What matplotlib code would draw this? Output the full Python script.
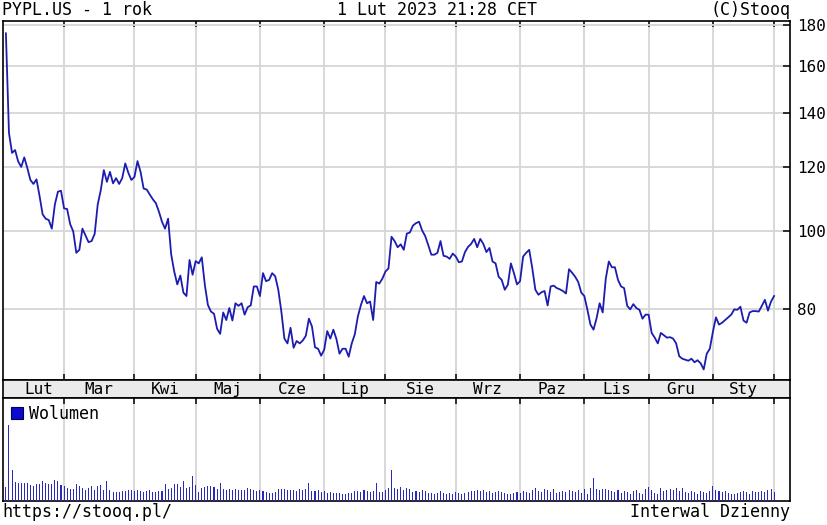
import numpy as np
import pandas as pd
import matplotlib
matplotlib.use("Agg")
import matplotlib.pyplot as plt
from matplotlib.patches import Patch
from matplotlib.ticker import NullLocator, FixedLocator, FixedFormatter

# ---------------- data ----------------
start_date = "2022-02-01"
end_date = "2023-02-01"
holidays = ["2022-02-21", "2022-04-15", "2022-05-30", "2022-06-20", "2022-07-04",
            "2022-09-05", "2022-11-24", "2022-12-26", "2023-01-02", "2023-01-16"]

month_names = ["Lut", "Mar", "Kwi", "Maj", "Cze", "Lip", "Sie", "Wrz", "Paz", "Lis", "Gru", "Sty"]

price_ticks = [80, 100, 120, 140, 160, 180]

close = [
    175.7, 132.2, 124.9, 125.9, 121.9, 120.0, 123.3, 119.6, 115.6, 114.3,
    115.8, 110.4, 104.8, 103.5, 103.1, 100.6, 107.8, 111.8, 112.1, 106.6,
    106.4, 101.9, 99.8, 93.9, 94.7, 100.6, 98.7, 96.8, 97.1, 99.1,
    107.8, 112.3, 118.9, 115.0, 118.3, 114.5, 116.2, 114.3, 116.2, 121.2,
    118.0, 115.6, 116.6, 122.0, 118.3, 112.8, 112.5, 110.9, 109.4, 108.2,
    105.6, 102.6, 100.6, 103.5, 93.5, 89.0, 85.8, 88.0, 83.8, 83.0,
    92.0, 88.2, 91.7, 91.1, 92.7, 85.7, 80.9, 79.4, 78.9, 75.6,
    74.5, 79.2, 77.5, 80.2, 77.4, 81.3, 80.7, 81.3, 78.7, 80.4,
    80.8, 85.3, 85.3, 83.0, 88.6, 86.6, 86.9, 88.6, 87.8, 84.5,
    79.4, 73.5, 72.5, 75.8, 71.6, 73.0, 72.5, 73.1, 74.1, 77.8,
    76.1, 71.7, 71.4, 70.0, 71.2, 75.1, 73.5, 75.4, 73.4, 70.4,
    71.4, 71.4, 69.8, 72.5, 74.4, 78.3, 80.9, 83.0, 81.3, 81.7,
    77.5, 86.4, 86.0, 87.2, 89.0, 89.8, 98.3, 97.1, 95.4, 96.2,
    94.7, 99.2, 99.5, 101.5, 102.2, 102.6, 100.1, 98.5, 96.0, 93.4,
    93.4, 93.9, 97.1, 93.1, 92.9, 92.3, 93.7, 92.9, 91.4, 91.6,
    94.1, 95.5, 96.3, 97.7, 95.4, 97.7, 96.3, 94.1, 95.2, 91.6,
    91.1, 87.7, 86.9, 84.5, 85.7, 91.1, 88.6, 85.8, 86.6, 92.9,
    93.9, 94.7, 89.8, 84.5, 83.3, 83.9, 84.2, 80.8, 85.3, 85.5,
    84.9, 84.6, 84.2, 83.6, 89.6, 88.7, 87.7, 86.4, 83.8, 83.0,
    79.8, 76.5, 75.4, 77.9, 81.3, 79.2, 87.2, 91.6, 90.1, 90.1,
    86.9, 85.3, 84.9, 80.7, 79.9, 81.1, 80.2, 79.8, 77.8, 78.7,
    78.7, 74.7, 73.7, 72.5, 74.7, 74.2, 73.7, 73.8, 73.5, 72.5,
    69.9, 69.4, 69.2, 69.0, 69.4, 68.7, 69.1, 68.5, 67.3, 70.4,
    71.4, 74.9, 78.1, 76.5, 76.9, 77.5, 78.1, 78.7, 79.9, 79.8,
    80.5, 77.4, 76.9, 79.2, 79.5, 79.5, 79.4, 80.7, 82.1, 79.6,
    81.7, 83.0,
]

volume = [
    14, 76, 31, 19, 18, 18, 18, 18, 16, 15,
    17, 17, 20, 18, 17, 17, 21, 20, 16, 15,
    13, 12, 12, 17, 15, 13, 11, 13, 15, 11,
    15, 16, 11, 20, 11, 9, 9, 9, 10, 10,
    11, 11, 10, 11, 10, 9, 10, 11, 9, 9,
    10, 10, 17, 12, 13, 17, 17, 14, 20, 13,
    14, 25, 16, 9, 13, 14, 15, 15, 14, 12,
    18, 12, 11, 12, 11, 12, 11, 11, 11, 13,
    12, 11, 10, 11, 10, 9, 8, 8, 9, 12,
    12, 12, 11, 11, 11, 10, 12, 11, 12, 18,
    10, 10, 11, 9, 10, 8, 9, 8, 8, 8,
    7, 7, 8, 8, 10, 10, 9, 11, 10, 9,
    10, 18, 9, 9, 11, 13, 31, 13, 12, 14,
    11, 13, 12, 9, 10, 9, 11, 10, 8, 8,
    7, 8, 10, 8, 7, 8, 7, 9, 8, 7,
    8, 9, 10, 10, 11, 10, 11, 9, 10, 8,
    9, 10, 9, 8, 7, 7, 8, 9, 8, 10,
    9, 8, 11, 13, 10, 9, 12, 11, 9, 12,
    8, 9, 10, 9, 11, 10, 9, 11, 8, 12,
    7, 13, 23, 12, 11, 12, 12, 11, 10, 9,
    11, 8, 10, 9, 7, 10, 11, 8, 7, 12,
    14, 11, 8, 7, 13, 10, 11, 12, 11, 13,
    10, 13, 9, 8, 10, 9, 7, 10, 9, 8,
    10, 15, 11, 10, 9, 10, 8, 7, 7, 8,
    9, 10, 9, 7, 10, 9, 9, 10, 9, 11,
    12, 9,
]

# ---------------- trading calendar ----------------
dates = pd.bdate_range(start_date, end_date)
dates = dates[~dates.isin(pd.to_datetime(holidays))]
n = min(len(dates), len(close), len(volume))
dates = dates[:n]
close = close[:n]
volume = volume[:n]
x = np.arange(n)

months = dates.to_period("M")
month_start = [0] + [i for i in range(1, n) if months[i] != months[i - 1]]
bounds = month_start
label_pos = [(bounds[k] + bounds[k + 1]) / 2 for k in range(len(bounds) - 1)]
label_pos[0] = label_pos[0] + 1.2  # first label sits a bit right of the month's centre

# ---------------- figure ----------------
W, H = 827, 525
fig = plt.figure(figsize=(W / 100, H / 100), dpi=100)
fig.patch.set_facecolor("white")
MONO = "DejaVu Sans Mono"


def rect(x0, y0, x1, y1):
    return [x0 / W, 1 - y1 / H, (x1 - x0) / W, (y1 - y0) / H]


XL = (-0.95, 256.2)
grid_kw = dict(color="#d6d6d6", lw=1.3)
spine_lw = 1.2
line_col = "#1c1cb0"

# price panel
ax = fig.add_axes(rect(3, 21, 790, 379.5))
ax.plot(x, close, color=line_col, lw=1.3, zorder=3)
ax.set_yscale("log")
ax.set_ylim(65.4, 182.0)
ax.set_xlim(*XL)
ax.yaxis.set_major_locator(FixedLocator(price_ticks))
ax.yaxis.set_major_formatter(FixedFormatter([str(v) for v in price_ticks]))
ax.yaxis.set_minor_locator(NullLocator())
ax.yaxis.tick_right()
ax.tick_params(axis="y", which="both", direction="in", length=5, width=1.1,
               labelsize=11.5, pad=5, left=False, right=True)
for lab in ax.get_yticklabels():
    lab.set_family(MONO)
ax.set_xticks(month_start[1:])
ax.tick_params(axis="x", direction="in", length=4, width=1.1, top=True, bottom=True,
               labelbottom=False)
ax.set_axisbelow(True)
ax.grid(True, **grid_kw)
for s in ax.spines.values():
    s.set_linewidth(spine_lw)

# month label band
band = fig.add_axes(rect(3, 379.5, 790, 397.5))
band.set_facecolor("#ebebeb")
band.set_xlim(*XL)
band.set_ylim(0, 1)
band.set_xticks([])
band.set_yticks([])
for s in band.spines.values():
    s.set_linewidth(spine_lw)
for pos, name in zip(label_pos, month_names):
    band.text(pos, 0.45, name, ha="center", va="center", family=MONO, fontsize=11.5)

# volume panel
axv = fig.add_axes(rect(3, 397.5, 790, 500.5))
axv.bar(x, volume, width=0.34, color="#2a2ab8", zorder=3, antialiased=False)
axv.set_xlim(*XL)
axv.set_ylim(0, 103)
axv.set_yticks([])
axv.set_xticks(month_start[1:])
axv.tick_params(axis="x", direction="in", length=4, width=1.1, top=True, bottom=False,
                labelbottom=False)
axv.set_axisbelow(True)
axv.grid(True, axis="x", **grid_kw)
for s in axv.spines.values():
    s.set_linewidth(spine_lw)
axv.legend(handles=[Patch(facecolor="#0a0ad0", edgecolor="#000050", lw=0.8, label="Wolumen")],
           loc="upper left", frameon=False, handlelength=0.75, handleheight=0.75,
           handletextpad=0.35, borderaxespad=0.25, borderpad=0.2,
           prop={"family": MONO, "size": 12})

# header / footer texts
fig.text(2 / W, 1 - 15 / H, "PYPL.US - 1 rok", family=MONO, fontsize=12, va="baseline", ha="left")
fig.text(437 / W, 1 - 15 / H, "1 Lut 2023 21:28 CET", family=MONO, fontsize=12, va="baseline", ha="center")
fig.text(790 / W, 1 - 15 / H, "(C)Stooq", family=MONO, fontsize=12, va="baseline", ha="right")
fig.text(2 / W, 1 - 517 / H, "https://stooq.pl/", family=MONO, fontsize=12, va="baseline", ha="left")
fig.text(790 / W, 1 - 517 / H, "Interwal Dzienny", family=MONO, fontsize=12, va="baseline", ha="right")

fig.savefig("out.png", dpi=100, facecolor="white")
